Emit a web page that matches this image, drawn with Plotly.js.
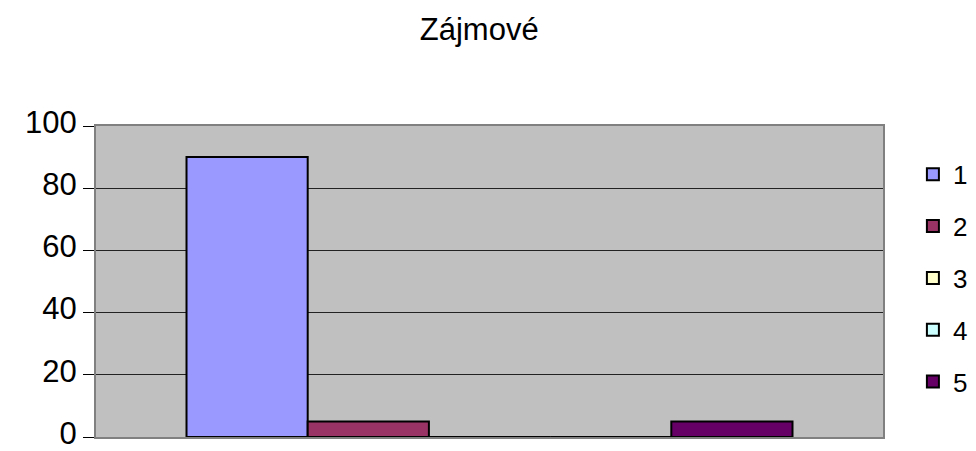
<!DOCTYPE html>
<html>
<head>
<meta charset="utf-8">
<script src="https://cdn.plot.ly/plotly-3.0.1.min.js"></script>
<style>html,body{margin:0;padding:0;background:#fff;}#chart{width:976px;height:451px;}</style>
</head>
<body>
<div id="chart"></div>
<script>
const categories = ["Zájmové"];
const seriesNames = ["1", "2", "3", "4", "5"];
const seriesValues = [[90], [5], [0], [0], [5]];
const seriesColors = ["#9999FF", "#993366", "#FFFFCC", "#CCFFFF", "#660066"];
const yTicks = [0, 20, 40, 60, 80, 100];

const traces = seriesNames.map((name, i) => ({
  type: "bar",
  name: name,
  x: categories,
  y: seriesValues[i],
  legendgroup: "g" + i,
  marker: { color: seriesColors[i], line: { color: "#000", width: 2 } },
  hoverinfo: "none"
}));

const layout = {
  width: 976, height: 451,
  margin: { l: 96, r: 93, t: 126, b: 14, pad: 0, autoexpand: false },
  paper_bgcolor: "#fff",
  plot_bgcolor: "#C0C0C0",
  font: { family: "Liberation Sans, Arial, sans-serif", color: "#000" },
  title: { text: "Zájmové", font: { size: 31, color: "#000" }, x: 0.491, xanchor: "center", y: 0.935, yanchor: "middle" },
  barmode: "group",
  bargap: 0.23,
  bargroupgap: 0,
  showlegend: true,
  legend: {
    x: 1.038, xanchor: "left", y: 0.51, yanchor: "middle",
    font: { size: 26, color: "#000" },
    tracegroupgap: 15,
    bgcolor: "rgba(0,0,0,0)"
  },
  xaxis: {
    showticklabels: false, ticks: "", showgrid: false, zeroline: false,
    showline: true, mirror: true, linecolor: "#808080", linewidth: 2
  },
  yaxis: {
    range: [0, 100], tickvals: yTicks, ticktext: yTicks.map(String),
    ticks: "outside", ticklen: 11, tickcolor: "#000", tickwidth: 1,
    tickfont: { size: 31, color: "#000" },
    ticklabeloverflow: "allow",
    ticklabelshift: -4,
    showgrid: true, gridcolor: "#222", gridwidth: 1, zeroline: false,
    showline: true, mirror: true, linecolor: "#808080", linewidth: 2
  }
};

Plotly.newPlot("chart", traces, layout, { displayModeBar: false, staticPlot: true });
</script>
</body>
</html>
